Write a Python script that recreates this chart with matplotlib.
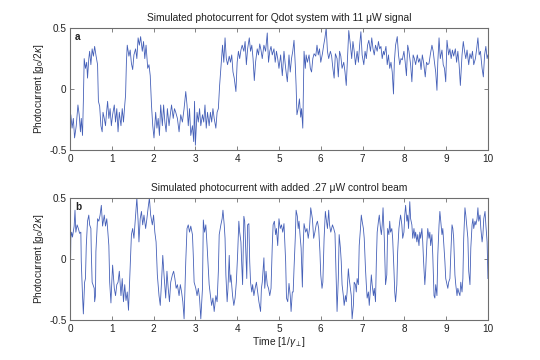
import matplotlib
matplotlib.use("Agg")
import matplotlib.pyplot as plt

# ---------------------------------------
# Data
# ---------------------------------------

time_a = [
    0.00, 0.02, 0.05, 0.08, 0.11, 0.15, 0.19, 0.22, 0.25, 0.27, 0.30, 0.32, 0.34, 0.37, 0.40, 0.42,
    0.45, 0.47, 0.50, 0.53, 0.56, 0.59, 0.62, 0.66, 0.68, 0.71, 0.74, 0.77, 0.79, 0.82, 0.85, 0.87,
    0.90, 0.93, 0.96, 0.99, 1.02, 1.06, 1.09, 1.12, 1.15, 1.18, 1.22, 1.25, 1.28, 1.31, 1.33, 1.35,
    1.37, 1.41, 1.44, 1.47, 1.50, 1.53, 1.57, 1.60, 1.63, 1.66, 1.69, 1.73, 1.76, 1.79, 1.82, 1.86,
    1.89, 1.92, 1.95, 1.98, 2.01, 2.05, 2.08, 2.11, 2.14, 2.17, 2.21, 2.24, 2.27, 2.30, 2.33, 2.37,
    2.40, 2.43, 2.47, 2.50, 2.53, 2.57, 2.61, 2.65, 2.69, 2.73, 2.77, 2.80, 2.83, 2.86, 2.89, 2.93,
    2.96, 2.98, 3.00, 3.04, 3.07, 3.10, 3.13, 3.17, 3.20, 3.23, 3.26, 3.29, 3.33, 3.36, 3.39, 3.42,
    3.45, 3.49, 3.52, 3.55, 3.58, 3.61, 3.65, 3.68, 3.71, 3.74, 3.77, 3.81, 3.84, 3.87, 3.90, 3.93,
    3.97, 4.00, 4.03, 4.06, 4.09, 4.12, 4.16, 4.19, 4.22, 4.25, 4.29, 4.32, 4.35, 4.38, 4.41, 4.44,
    4.48, 4.51, 4.54, 4.57, 4.60, 4.64, 4.68, 4.72, 4.75, 4.78, 4.81, 4.84, 4.88, 4.91, 4.94, 4.97,
    5.00, 5.04, 5.08, 5.12, 5.16, 5.20, 5.24, 5.27, 5.30, 5.33, 5.36, 5.39, 5.41, 5.43, 5.46, 5.49,
    5.52, 5.54, 5.57, 5.60, 5.63, 5.65, 5.68, 5.72, 5.75, 5.78, 5.81, 5.84, 5.88, 5.91, 5.94, 5.97,
    6.00, 6.04, 6.07, 6.10, 6.13, 6.16, 6.19, 6.23, 6.26, 6.29, 6.32, 6.35, 6.39, 6.42, 6.45, 6.48,
    6.51, 6.55, 6.58, 6.61, 6.64, 6.67, 6.71, 6.74, 6.77, 6.80, 6.83, 6.87, 6.90, 6.93, 6.96, 6.99,
    7.03, 7.06, 7.09, 7.12, 7.15, 7.19, 7.22, 7.25, 7.28, 7.31, 7.35, 7.38, 7.41, 7.44, 7.47, 7.50,
    7.52, 7.56, 7.59, 7.62, 7.65, 7.68, 7.71, 7.74, 7.76, 7.79, 7.83, 7.86, 7.89, 7.92, 7.95, 7.99,
    8.02, 8.05, 8.08, 8.11, 8.15, 8.18, 8.21, 8.24, 8.27, 8.31, 8.34, 8.37, 8.40, 8.43, 8.46, 8.50,
    8.53, 8.56, 8.59, 8.62, 8.66, 8.69, 8.72, 8.75, 8.78, 8.80, 8.83, 8.86, 8.90, 8.93, 8.96, 8.99,
    9.02, 9.06, 9.09, 9.12, 9.15, 9.18, 9.22, 9.25, 9.28, 9.31, 9.34, 9.38, 9.41, 9.44, 9.47, 9.50,
    9.54, 9.57, 9.60, 9.63, 9.66, 9.70, 9.73, 9.76, 9.79, 9.82, 9.86, 9.89, 9.92, 9.95, 9.98, 10.00,
]

current_a = [
    -0.35, -0.21, -0.32, -0.24, -0.40, -0.30, -0.13, -0.21, -0.35, -0.24, -0.38, -0.10, 0.25, 0.17, 0.22, 0.09,
    0.25, 0.31, 0.20, 0.33, 0.27, 0.35, 0.28, 0.20, -0.10, -0.14, -0.30, -0.35, -0.19, -0.24, -0.30, -0.21,
    -0.10, -0.24, -0.16, -0.30, -0.21, -0.13, -0.27, -0.16, -0.35, -0.19, -0.30, -0.16, -0.27, -0.13, -0.05, 0.22,
    0.36, 0.27, 0.32, 0.21, 0.16, 0.28, 0.33, 0.25, 0.42, 0.36, 0.43, 0.31, 0.39, 0.25, 0.36, 0.17,
    0.20, 0.11, -0.13, -0.30, -0.40, -0.19, -0.32, -0.24, -0.38, -0.13, -0.30, -0.13, -0.27, -0.35, -0.16, -0.30,
    -0.21, -0.13, -0.24, -0.16, -0.19, -0.24, -0.35, -0.21, -0.27, -0.16, -0.02, -0.13, -0.30, -0.16, -0.38, -0.30,
    -0.43, -0.10, -0.46, -0.19, -0.27, -0.16, -0.30, -0.21, -0.27, -0.13, -0.32, -0.19, -0.30, -0.19, -0.27, -0.16,
    -0.24, -0.32, -0.19, -0.16, 0.03, 0.17, 0.36, 0.22, 0.42, 0.25, 0.20, 0.27, 0.22, 0.28, 0.14, 0.09,
    -0.02, 0.22, 0.31, 0.25, 0.32, 0.36, 0.31, 0.39, 0.20, 0.33, 0.42, 0.31, 0.36, 0.25, 0.07, 0.22,
    0.33, 0.28, 0.37, 0.32, 0.25, 0.36, 0.31, 0.46, 0.22, 0.31, 0.35, 0.28, 0.33, 0.22, 0.31, 0.25,
    0.17, 0.28, 0.11, 0.31, 0.17, 0.06, 0.28, 0.14, 0.25, 0.31, 0.40, 0.20, 0.03, -0.21, -0.16, -0.08,
    -0.23, -0.16, -0.32, 0.31, 0.17, 0.28, 0.22, 0.28, 0.17, 0.14, 0.25, 0.29, 0.27, 0.36, 0.28, 0.33,
    0.22, 0.29, 0.36, 0.42, 0.50, 0.31, 0.25, 0.31, 0.27, 0.17, 0.09, 0.29, 0.25, 0.10, 0.31, 0.27,
    0.17, 0.22, 0.14, 0.03, 0.25, 0.48, 0.36, 0.25, 0.39, 0.31, 0.20, 0.31, 0.22, 0.36, 0.47, 0.28,
    0.20, 0.31, 0.25, 0.36, 0.40, 0.31, 0.42, 0.33, 0.28, 0.36, 0.31, 0.39, 0.33, 0.35, 0.25, 0.31,
    0.28, 0.35, 0.20, 0.28, 0.17, 0.22, 0.14, -0.04, 0.22, 0.36, 0.43, 0.28, 0.20, 0.25, 0.24, 0.31,
    0.22, 0.11, 0.36, 0.31, 0.20, 0.06, 0.28, 0.25, 0.20, 0.28, 0.22, 0.25, 0.16, 0.28, 0.22, 0.10,
    0.22, 0.20, 0.21, 0.28, 0.36, 0.31, 0.22, 0.14, -0.01, 0.22, 0.42, 0.25, 0.32, 0.20, 0.17, 0.06,
    0.40, 0.28, 0.33, 0.25, 0.32, 0.27, 0.33, 0.22, 0.31, 0.20, 0.03, 0.28, 0.39, 0.31, 0.25, 0.32,
    0.20, 0.29, 0.25, 0.31, 0.20, 0.25, 0.33, 0.42, 0.28, 0.31, 0.17, 0.10, 0.28, 0.35, 0.25, 0.28,
]

time_b = [
    0.00, 0.02, 0.04, 0.06, 0.10, 0.12, 0.14, 0.17, 0.20, 0.23, 0.26, 0.27, 0.30, 0.32, 0.35, 0.37,
    0.39, 0.42, 0.45, 0.47, 0.50, 0.51, 0.53, 0.55, 0.58, 0.59, 0.61, 0.62, 0.66, 0.69, 0.72, 0.75,
    0.78, 0.82, 0.85, 0.88, 0.90, 0.93, 0.95, 0.98, 1.00, 1.02, 1.06, 1.09, 1.12, 1.15, 1.18, 1.22,
    1.25, 1.28, 1.31, 1.34, 1.37, 1.40, 1.42, 1.45, 1.47, 1.50, 1.53, 1.57, 1.60, 1.63, 1.65, 1.68,
    1.71, 1.74, 1.77, 1.81, 1.84, 1.87, 1.90, 1.93, 1.97, 2.00, 2.03, 2.06, 2.09, 2.13, 2.16, 2.19,
    2.22, 2.25, 2.29, 2.32, 2.35, 2.38, 2.41, 2.45, 2.48, 2.51, 2.54, 2.57, 2.61, 2.64, 2.67, 2.70,
    2.73, 2.77, 2.80, 2.83, 2.86, 2.89, 2.93, 2.95, 2.97, 3.01, 3.04, 3.07, 3.10, 3.13, 3.17, 3.19,
    3.22, 3.25, 3.28, 3.30, 3.33, 3.36, 3.39, 3.42, 3.45, 3.49, 3.52, 3.55, 3.57, 3.61, 3.64, 3.66,
    3.69, 3.71, 3.73, 3.76, 3.78, 3.81, 3.83, 3.85, 3.89, 3.92, 3.95, 3.98, 4.01, 4.04, 4.06, 4.09,
    4.11, 4.13, 4.16, 4.18, 4.21, 4.23, 4.25, 4.28, 4.30, 4.32, 4.35, 4.37, 4.40, 4.43, 4.46, 4.49,
    4.52, 4.56, 4.58, 4.60, 4.64, 4.66, 4.69, 4.72, 4.75, 4.78, 4.81, 4.84, 4.86, 4.89, 4.92, 4.94,
    4.97, 5.00, 5.03, 5.06, 5.09, 5.12, 5.16, 5.18, 5.21, 5.24, 5.27, 5.29, 5.32, 5.34, 5.36, 5.39,
    5.41, 5.44, 5.46, 5.48, 5.51, 5.53, 5.56, 5.58, 5.60, 5.64, 5.67, 5.70, 5.73, 5.76, 5.80, 5.83,
    5.86, 5.89, 5.92, 5.95, 5.98, 6.00, 6.03, 6.05, 6.08, 6.11, 6.13, 6.16, 6.19, 6.21, 6.24, 6.28,
    6.31, 6.34, 6.37, 6.39, 6.42, 6.44, 6.47, 6.49, 6.51, 6.54, 6.56, 6.59, 6.61, 6.63, 6.66, 6.68,
    6.71, 6.73, 6.75, 6.78, 6.80, 6.83, 6.85, 6.87, 6.90, 6.92, 6.95, 6.97, 6.99, 7.02, 7.04, 7.07,
    7.09, 7.11, 7.14, 7.16, 7.19, 7.21, 7.23, 7.26, 7.28, 7.31, 7.33, 7.35, 7.38, 7.40, 7.43, 7.45,
    7.47, 7.49, 7.52, 7.55, 7.58, 7.60, 7.63, 7.65, 7.67, 7.70, 7.72, 7.75, 7.77, 7.79, 7.82, 7.84,
    7.87, 7.89, 7.91, 7.94, 7.96, 7.99, 8.01, 8.03, 8.06, 8.08, 8.10, 8.13, 8.15, 8.18, 8.20, 8.23,
    8.25, 8.27, 8.30, 8.32, 8.35, 8.37, 8.39, 8.42, 8.44, 8.46, 8.49, 8.51, 8.54, 8.56, 8.59, 8.61,
    8.63, 8.66, 8.68, 8.71, 8.73, 8.75, 8.78, 8.80, 8.83, 8.85, 8.87, 8.90, 8.92, 8.94, 8.97, 8.99,
    9.02, 9.04, 9.06, 9.09, 9.11, 9.14, 9.16, 9.18, 9.21, 9.23, 9.26, 9.28, 9.30, 9.33, 9.35, 9.38,
    9.40, 9.42, 9.45, 9.47, 9.50, 9.52, 9.54, 9.57, 9.59, 9.62, 9.64, 9.66, 9.69, 9.71, 9.74, 9.76,
    9.78, 9.81, 9.83, 9.86, 9.88, 9.90, 9.93, 9.95, 9.98, 10.00,
]

current_b = [
    -0.48, 0.17, 0.22, 0.18, 0.27, 0.40, 0.22, 0.28, 0.25, 0.21, 0.22, -0.02, -0.30, -0.45, -0.19, -0.16,
    0.11, 0.31, 0.36, 0.28, 0.25, 0.06, -0.19, -0.21, -0.24, -0.35, -0.30, 0.06, 0.33, 0.31, 0.36, 0.44,
    0.27, 0.36, 0.27, 0.33, 0.25, 0.11, -0.19, -0.36, -0.19, -0.05, -0.24, -0.30, -0.21, -0.19, -0.10, -0.30,
    -0.16, -0.35, -0.21, -0.34, -0.27, -0.42, -0.24, 0.01, 0.20, 0.25, 0.17, 0.36, 0.50, 0.31, 0.14, 0.33,
    0.39, 0.28, 0.36, 0.25, 0.33, 0.42, 0.50, 0.36, 0.28, 0.36, 0.22, 0.14, -0.13, -0.30, -0.38, -0.19,
    0.03, -0.13, -0.32, -0.10, -0.24, -0.35, -0.19, -0.13, -0.10, -0.16, -0.24, -0.21, -0.30, -0.21, -0.27, -0.35,
    -0.49, -0.02, 0.25, 0.28, 0.22, 0.27, 0.20, 0.03, -0.19, -0.24, -0.30, -0.24, -0.32, -0.49, -0.24, 0.32,
    0.22, 0.28, 0.11, -0.02, -0.21, -0.30, -0.38, -0.32, -0.43, -0.30, -0.35, -0.10, 0.20, 0.28, 0.33, 0.40,
    0.28, 0.17, -0.13, -0.35, -0.24, 0.03, -0.19, -0.13, -0.30, -0.38, -0.32, -0.19, 0.03, 0.31, 0.22, 0.14,
    -0.05, -0.21, 0.35, 0.31, 0.03, -0.16, 0.28, 0.29, -0.02, -0.19, -0.27, -0.21, -0.30, -0.24, -0.19, -0.27,
    -0.35, -0.43, -0.24, -0.19, 0.01, -0.24, -0.10, -0.21, -0.24, -0.30, -0.24, 0.11, 0.28, 0.31, 0.20, 0.25,
    0.11, 0.33, 0.25, 0.28, 0.22, 0.29, -0.02, -0.32, -0.35, -0.20, -0.30, -0.43, -0.27, -0.27, -0.08, 0.17,
    0.40, 0.35, 0.25, 0.31, 0.17, 0.09, -0.23, 0.11, 0.29, 0.22, 0.25, 0.17, 0.25, 0.42, 0.33, 0.17,
    0.22, 0.28, 0.31, 0.25, 0.06, -0.13, -0.24, -0.19, 0.17, 0.39, 0.33, 0.25, 0.40, 0.28, 0.22, 0.28,
    0.25, 0.21, -0.19, -0.43, -0.16, 0.20, 0.09, -0.02, -0.21, -0.30, -0.38, -0.30, -0.35, -0.27, -0.08, -0.16,
    -0.24, -0.30, -0.49, -0.38, -0.19, -0.21, -0.27, -0.16, -0.21, 0.11, 0.25, 0.36, 0.31, 0.25, 0.17, -0.08,
    -0.21, -0.32, -0.27, -0.38, -0.24, -0.13, -0.21, -0.30, -0.24, -0.35, -0.02, 0.22, 0.31, 0.36, 0.25, 0.20,
    0.28, 0.42, 0.17, -0.21, -0.13, 0.25, 0.20, 0.31, 0.22, 0.25, 0.17, -0.08, -0.27, -0.35, -0.21, 0.06,
    0.25, 0.31, 0.36, 0.28, 0.17, 0.22, 0.36, 0.44, 0.31, 0.36, 0.25, 0.47, 0.33, 0.28, 0.17, 0.25,
    0.17, 0.22, 0.14, 0.20, 0.11, 0.22, 0.17, 0.25, 0.14, -0.02, -0.21, -0.10, 0.14, 0.25, 0.17, 0.22,
    0.11, 0.20, 0.03, -0.30, -0.32, -0.21, -0.30, 0.03, 0.28, 0.39, 0.31, 0.20, 0.25, 0.14, -0.02, -0.16,
    -0.21, -0.24, -0.19, -0.16, 0.03, 0.28, 0.25, 0.17, -0.13, -0.21, -0.30, -0.24, -0.27, -0.30, -0.19, -0.27,
    -0.16, 0.17, 0.42, 0.36, 0.25, 0.17, -0.10, -0.21, 0.09, 0.28, 0.33, 0.25, 0.31, 0.28, 0.33, 0.42,
    0.31, 0.36, 0.25, 0.14, 0.20, 0.33, 0.39, 0.28, 0.14, -0.16,
]

titles = [
    "Simulated photocurrent for Qdot system with 11 \u03bcW signal",
    "Simulated photocurrent with added .27 \u03bcW control beam",
]
panel_labels = ["a", "b"]
xticks = list(range(0, 11))
yticks = [-0.5, 0, 0.5]
yticklabels = ["-0.5", "0", "0.5"]

# ---------------------------------------
# Style
# ---------------------------------------

plt.rcParams["font.family"] = ["Liberation Sans", "DejaVu Sans"]
plt.rcParams["mathtext.fontset"] = "custom"
plt.rcParams["mathtext.rm"] = "Liberation Sans"
plt.rcParams["mathtext.it"] = "Liberation Sans:italic"
plt.rcParams["font.size"] = 7
plt.rcParams["axes.unicode_minus"] = False

line_color = "#4560b8"
frame_color = "#6e6e6e"
text_color = "#222222"

fig = plt.figure(figsize=(5.4, 3.6), dpi=100)
ax_a = fig.add_axes([0.1296, 0.583, 0.774, 0.339])
ax_b = fig.add_axes([0.1296, 0.111, 0.774, 0.339])

series = [(time_a, current_a), (time_b, current_b)]

for ax, (t, pc), title, lab in zip([ax_a, ax_b], series, titles, panel_labels):
    ax.plot(t, pc, color=line_color, linewidth=0.6)
    ax.set_xlim(0, 10)
    ax.set_ylim(-0.5, 0.5)
    ax.set_xticks(xticks)
    ax.set_yticks(yticks)
    ax.set_yticklabels(yticklabels)
    ax.tick_params(direction="in", top=True, right=True, length=3,
                   width=0.6, color=frame_color, labelcolor=text_color,
                   labelsize=7.2, pad=2.5)
    for sp in ax.spines.values():
        sp.set_color(frame_color)
        sp.set_linewidth(0.8)
    ax.set_title(title, fontsize=7.4, color=text_color, pad=5)
    ax.set_ylabel(r"Photocurrent [g$_0$/2$\kappa$]", fontsize=7.2,
                  color=text_color, labelpad=2)
    ax.text(0.012, 0.93, lab, transform=ax.transAxes, fontsize=7.2,
            fontweight="bold", color=text_color, va="center", ha="left")

ax_b.set_xlabel(r"Time [1/$\gamma_\perp$]", fontsize=7.4, color=text_color,
                labelpad=1)

plt.savefig("out.png", dpi=100)
